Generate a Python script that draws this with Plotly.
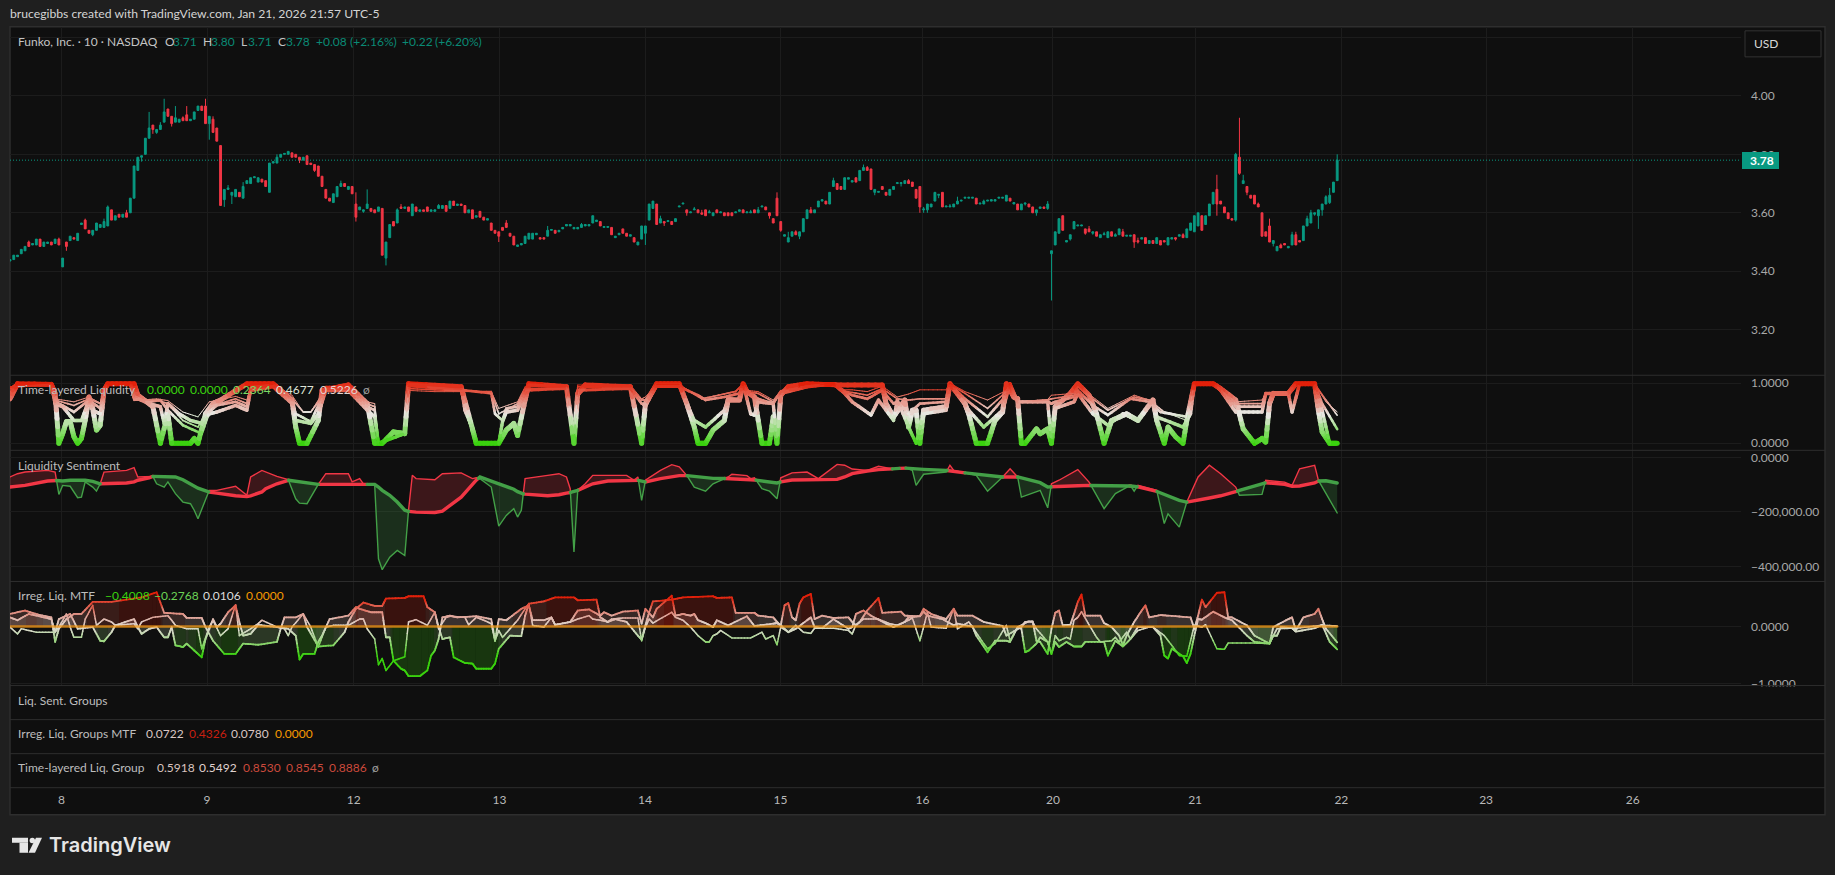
import plotly.graph_objects as go

W, H = 1835, 875
RENDER_H = 882
SHIFT = 1.2
BG, PAGE, GRID, SEP = "#0f0f0f", "#1f1f1f", "#1c1c1c", "#2e2e2e"
UP, DOWN = "#089981", "#F23645"
FONT = "Lato"

opens = [
 3.435,3.44,3.45,3.46,3.47,3.50,3.49,3.49,3.51,3.485,
 3.495,3.50,3.495,3.51,3.415,3.50,3.505,3.515,3.505,3.56,
 3.575,3.54,3.525,3.54,3.55,3.55,3.555,3.61,3.575,3.595,
 3.585,3.60,3.60,3.65,3.745,3.79,3.80,3.855,3.90,3.875,
 3.885,3.91,3.955,3.93,3.91,3.91,3.925,3.935,3.915,3.92,
 3.95,3.965,3.965,3.905,3.92,3.89,3.83,3.645,3.68,3.66,
 3.655,3.67,3.65,3.70,3.70,3.72,3.705,3.715,3.71,3.67,
 3.77,3.77,3.79,3.80,3.80,3.805,3.80,3.79,3.78,3.795,
 3.77,3.765,3.76,3.725,3.68,3.65,3.635,3.655,3.69,3.70,
 3.68,3.69,3.63,3.61,3.605,3.615,3.615,3.61,3.605,3.615,
 3.445,3.515,3.57,3.565,3.62,3.615,3.62,3.59,3.62,3.605,
 3.61,3.62,3.605,3.605,3.615,3.615,3.625,3.615,3.64,3.625,
 3.63,3.625,3.60,3.61,3.585,3.605,3.585,3.575,3.565,3.54,
 3.535,3.55,3.565,3.53,3.52,3.485,3.49,3.495,3.51,3.51,
 3.525,3.515,3.515,3.52,3.54,3.54,3.535,3.545,3.555,3.555,
 3.545,3.545,3.55,3.555,3.555,3.565,3.57,3.57,3.55,3.55,
 3.55,3.515,3.525,3.545,3.53,3.52,3.515,3.49,3.51,3.53,
 3.575,3.615,3.63,3.565,3.57,3.57,3.57,3.57,3.62,3.63,
 3.61,3.60,3.61,3.61,3.60,3.61,3.60,3.59,3.61,3.60,
 3.60,3.60,3.60,3.60,3.605,3.61,3.60,3.60,3.61,3.60,
 3.62,3.62,3.60,3.58,3.65,3.57,3.52,3.50,3.52,3.535,
 3.52,3.535,3.58,3.61,3.60,3.62,3.64,3.64,3.63,3.69,
 3.70,3.69,3.68,3.715,3.705,3.72,3.71,3.745,3.755,3.75,
 3.67,3.67,3.69,3.67,3.66,3.68,3.70,3.70,3.70,3.71,
 3.705,3.68,3.69,3.61,3.61,3.62,3.64,3.66,3.67,3.62,
 3.62,3.62,3.63,3.64,3.65,3.65,3.65,3.65,3.63,3.63,
 3.64,3.64,3.64,3.65,3.65,3.64,3.65,3.63,3.63,3.61,
 3.63,3.63,3.62,3.60,3.615,3.62,3.615,3.46,3.49,3.53,
 3.59,3.50,3.51,3.545,3.555,3.555,3.545,3.545,3.53,3.535,
 3.515,3.525,3.515,3.535,3.52,3.525,3.535,3.52,3.52,3.525,
 3.505,3.51,3.515,3.495,3.505,3.495,3.505,3.505,3.49,3.51,
 3.515,3.52,3.525,3.515,3.54,3.535,3.555,3.59,3.56,3.59,
 3.63,3.68,3.64,3.62,3.60,3.58,3.575,3.79,3.70,3.69,
 3.66,3.66,3.63,3.60,3.535,3.555,3.495,3.47,3.49,3.495,
 3.48,3.49,3.525,3.505,3.505,3.555,3.565,3.595,3.59,3.61,
 3.63,3.635,3.67,3.71]
closes = [
 3.44,3.455,3.455,3.475,3.485,3.485,3.495,3.51,3.485,3.50,
 3.50,3.49,3.51,3.49,3.445,3.485,3.52,3.51,3.53,3.565,
 3.545,3.53,3.54,3.565,3.56,3.57,3.62,3.575,3.59,3.585,
 3.595,3.585,3.65,3.76,3.79,3.795,3.855,3.89,3.885,3.885,
 3.90,3.945,3.93,3.905,3.925,3.92,3.915,3.915,3.92,3.945,
 3.965,3.95,3.905,3.93,3.875,3.845,3.625,3.68,3.685,3.67,
 3.68,3.655,3.69,3.71,3.72,3.723,3.72,3.705,3.69,3.77,
 3.775,3.79,3.80,3.803,3.81,3.79,3.79,3.78,3.79,3.765,
 3.765,3.745,3.725,3.69,3.65,3.64,3.665,3.69,3.70,3.69,
 3.69,3.665,3.585,3.62,3.61,3.63,3.605,3.60,3.62,3.455,
 3.50,3.56,3.555,3.61,3.615,3.62,3.605,3.63,3.605,3.61,
 3.605,3.605,3.61,3.61,3.625,3.625,3.605,3.64,3.625,3.63,
 3.625,3.60,3.61,3.58,3.59,3.585,3.575,3.58,3.54,3.53,
 3.52,3.54,3.55,3.52,3.49,3.49,3.495,3.52,3.53,3.53,
 3.53,3.51,3.51,3.54,3.543,3.53,3.54,3.55,3.56,3.56,
 3.55,3.55,3.56,3.56,3.56,3.59,3.575,3.555,3.553,3.553,
 3.525,3.52,3.53,3.53,3.52,3.525,3.50,3.50,3.555,3.555,
 3.63,3.64,3.56,3.58,3.565,3.573,3.56,3.58,3.623,3.633,
 3.60,3.603,3.613,3.60,3.595,3.59,3.603,3.60,3.60,3.603,
 3.59,3.59,3.59,3.603,3.61,3.60,3.603,3.603,3.60,3.61,
 3.623,3.61,3.59,3.565,3.59,3.54,3.525,3.515,3.535,3.525,
 3.535,3.58,3.61,3.60,3.61,3.64,3.645,3.63,3.67,3.71,
 3.68,3.68,3.72,3.72,3.71,3.705,3.745,3.755,3.745,3.68,
 3.68,3.673,3.68,3.66,3.68,3.69,3.703,3.703,3.71,3.70,
 3.69,3.65,3.62,3.613,3.63,3.63,3.67,3.663,3.62,3.623,
 3.623,3.63,3.64,3.643,3.653,3.653,3.653,3.63,3.633,3.64,
 3.643,3.645,3.645,3.653,3.653,3.66,3.64,3.635,3.61,3.63,
 3.633,3.62,3.60,3.61,3.62,3.615,3.63,3.47,3.535,3.58,
 3.54,3.505,3.525,3.57,3.558,3.558,3.53,3.535,3.535,3.52,
 3.525,3.528,3.535,3.52,3.525,3.545,3.52,3.523,3.523,3.50,
 3.50,3.515,3.495,3.505,3.495,3.515,3.49,3.50,3.515,3.515,
 3.51,3.525,3.515,3.545,3.565,3.59,3.60,3.54,3.59,3.63,
 3.67,3.63,3.63,3.60,3.58,3.575,3.80,3.735,3.71,3.67,
 3.65,3.63,3.62,3.52,3.52,3.50,3.505,3.485,3.48,3.49,
 3.485,3.525,3.49,3.50,3.555,3.58,3.60,3.60,3.61,3.63,
 3.655,3.66,3.705,3.78]
# upper and lower wick ends, keyed by candle number (1 = first candle on the chart)
wick_highs = {6:3.505,14:3.515,21:3.58,26:3.58,27:3.625,32:3.61,38:3.945,41:3.91,42:3.99,45:3.965,47:3.93,48:3.965,
 53:3.99,55:3.93,59:3.695,63:3.705,72:3.80,89:3.71,93:3.67,96:3.68,104:3.615,105:3.63,115:3.63,133:3.575,144:3.555,
 153:3.565,174:3.59,183:3.62,185:3.61,187:3.61,198:3.61,200:3.62,205:3.67,208:3.535,210:3.54,214:3.62,220:3.72,
 228:3.765,229:3.76,240:3.715,244:3.62,251:3.63,253:3.655,260:3.645,271:3.635,277:3.64,288:3.555,292:3.535,295:3.53,
 297:3.545,301:3.515,313:3.53,322:3.73,327:3.805,328:3.925,329:3.73,333:3.635,336:3.58,339:3.495,342:3.535,343:3.535,
 346:3.59,347:3.61,351:3.66,352:3.685,354:3.80}
wick_lows = {16:3.47,23:3.52,36:3.775,39:3.87,40:3.87,44:3.895,54:3.85,58:3.62,60:3.63,78:3.77,82:3.74,93:3.57,95:3.60,
 101:3.42,131:3.50,170:3.49,175:3.555,181:3.59,203:3.58,204:3.565,206:3.535,211:3.51,231:3.66,238:3.69,243:3.60,
 244:3.60,245:3.60,248:3.65,252:3.62,271:3.625,274:3.59,277:3.61,278:3.30,283:3.505,287:3.525,289:3.525,300:3.48,
 301:3.495,311:3.505,322:3.59,327:3.57,328:3.73,330:3.66,337:3.485,348:3.59,349:3.545,350:3.59,352:3.63}

day_bars = [13.7,52.4,91.4,130.2,168.9,204.9,242.7,277.4,315.2,354.1,392.6,431.6]
day_labels = ["8","9","12","13","14","15","16","20","21","22","23","26"]
last_close = 3.78

tl_a_bars = [0,2,11,12,13,14,15,16,17,18,19,20,21,22,23,24,25,26,33,34,37,38,40,42,43,48,49,50,52,54,56,63,70,75,76,77,79,82,83,90,95,97,99,102,105,106,120,123,124,130,132,134,135,137,138,148,150,151,153,165,168,169,172,178,180,182,183,185,187,190,191,194,195,196,198,200,202,203,204,205,207,212,221,232,233,235,238,239,240,241,242,243,249,250,254,255,257,260,262,264,265,267,268,269,270,273,274,276,277,278,282,284,287,289,291,293,297,300,304,305,307,308,310,312,313,315,320,322,326,328,331,333,334,335,336,340,342,347,348,349,351,353]
tl_a_vals = [.74,.99,.98,.83,0,.16,.36,.36,.11,0,.08,.38,.77,.58,.22,.30,.88,.99,.99,.80,.66,.61,0,.49,0,0,.08,0,.49,.66,.72,.99,.99,.72,.27,0,0,.38,.88,.97,.66,0,0,.19,.16,.99,.94,.24,0,0,.22,.33,.13,.72,.99,.94,0,.83,.97,.94,0,.66,.99,.99,.66,.27,0,0,.22,.38,.72,.72,.99,.86,.77,0,0,.44,0,.80,.94,.99,.97,.97,.66,.44,.72,.27,.55,.55,0,.55,.61,.99,.66,.49,0,0,.38,.52,.99,.77,.74,0,0,.24,.16,.24,0,.61,.83,.99,.80,.49,0,.38,.49,.38,.72,.38,0,.27,.11,0,.38,.99,.99,.91,.72,.24,0,.08,.02,.66,.83,.83,.99,.99,.55,.19,0,0]
tl_b_bars = [0,2,11,12,14,17,19,21,22,24,25,26,32,33,37,40,41,42,45,48,51,53,55,60,63,64,70,75,76,80,82,84,90,95,97,98,105,106,120,121,123,124,130,131,132,135,137,138,148,150,151,153,165,168,169,172,178,182,185,190,191,194,195,197,198,199,203,204,205,212,219,222,224,229,231,235,236,239,241,243,249,250,255,259,264,266,268,276,277,278,283,284,288,292,296,300,304,305,312,314,315,320,322,326,333,334,340,341,343,347,349,351,353]
tl_b_vals = [.83,.97,.97,.66,.61,.38,.38,.72,.55,.49,.83,.99,.99,.77,.66,.61,.33,.66,.49,.38,.33,.49,.52,.63,.55,.88,.94,.66,.38,.33,.49,.88,.88,.55,.44,0,.16,.98,.94,.55,.24,0,0,.36,.52,.55,.83,.97,.94,0,.80,.94,.91,0,.61,.97,.97,.38,.27,.55,.74,.72,.99,.49,.47,.69,.66,0,.83,.94,.99,.83,.69,.47,.72,.38,.72,.27,0,.49,.55,.99,.55,.27,.55,.99,.69,.69,0,.58,.69,.83,.49,.30,.49,.38,.72,.44,.27,.49,.99,.99,.88,.52,.52,.83,.83,.52,.99,.99,.55,0,0]
tl_c_bars = [0,2,11,12,14,17,21,24,25,26,32,33,37,40,42,46,51,53,55,60,63,64,70,75,76,80,82,84,90,95,97,98,105,106,120,128,129,131,132,135,137,148,150,151,165,168,169,172,178,183,185,190,194,195,196,199,203,205,212,219,222,224,228,232,235,236,239,242,249,250,254,260,265,266,268,276,277,278,283,284,288,292,298,303,306,313,315,320,322,326,333,334,340,342,347,349,353]
tl_c_vals = [.91,.99,.98,.69,.63,.52,.72,.58,.86,.99,.99,.74,.69,.72,.55,.30,.16,.52,.63,.69,.61,.91,.97,.72,.49,.36,.63,.91,.91,.61,.55,0,.16,.95,.89,.83,.49,.38,.58,.61,.88,.91,0,.88,.91,.66,.63,.94,.94,.80,.72,.77,.83,.99,.86,.74,.66,.86,.94,.99,.86,.80,.74,.88,.66,.69,.49,.66,.69,.99,.74,.44,.80,.99,.69,.69,.66,.69,.77,.88,.63,.47,.74,.69,.52,.44,.99,.99,.88,.61,.61,.83,.83,.99,.99,.66,.2364]
tl_d_bars = [0,11,12,17,21,24,25,26,32,33,39,42,46,50,53,60,63,64,70,75,78,80,82,84,90,95,97,98,105,106,120,128,130,135,137,148,150,151,165,168,169,172,178,184,193,195,196,199,203,205,212,219,222,228,232,236,239,242,249,250,254,260,265,266,268,276,277,283,284,288,292,299,303,307,313,315,320,322,326,333,334,340,342,347,350,353]
tl_d_vals = [.93,.98,.72,.63,.74,.66,.88,.99,.99,.72,.72,.66,.38,.27,.61,.74,.66,.94,.97,.74,.52,.52,.69,.94,.94,.66,.61,0,.16,.91,.87,.86,.49,.66,.91,.91,0,.94,.94,.72,.72,.97,.97,.74,.86,.99,.86,.83,.69,.86,.94,.99,.87,.80,.91,.74,.72,.74,.74,.99,.83,.58,.86,.99,.69,.72,.74,.80,.94,.74,.55,.77,.72,.52,.44,.99,.99,.88,.66,.66,.83,.83,.99,.99,.72,.4677]
tl_e_bars = [0,11,12,17,21,24,25,26,32,33,39,42,46,50,53,60,63,64,70,75,78,80,82,84,90,95,97,98,105,106,113,128,130,135,137,148,150,151,165,168,169,172,178,184,193,195,196,199,203,205,212,219,222,224,228,232,236,239,242,249,250,254,260,265,266,268,276,277,283,284,288,292,299,303,307,313,315,320,322,326,333,334,340,342,347,350,353]
tl_e_vals = [.94,.98,.74,.69,.77,.67,.91,.99,.99,.71,.74,.71,.52,.44,.69,.78,.72,.95,.98,.80,.52,.52,.72,.95,.95,.69,.66,0,.16,.88,.86,.86,.58,.69,.94,.94,0,.97,.97,.74,.77,.98,.98,.74,.87,1.0,.88,.86,.72,.88,.95,1.0,.89,.89,.86,.95,.77,.82,.89,.89,1.0,.86,.72,.88,1.0,.69,.73,.80,.83,.99,.77,.58,.80,.72,.52,.38,.99,.99,.88,.69,.72,.83,.83,.99,.99,.69,.5226]

sent_bars = [0,2,4,10,12,13,14,16,18,19,20,22,23,24,25,31,33,34,37,38,39,41,42,44,46,48,49,50,53,55,57,60,63,64,67,68,71,74,76,77,79,82,84,90,91,93,94,97,98,99,101,103,105,106,107,108,113,115,120,123,124,125,128,130,132,134,135,136,137,143,146,148,149,150,151,153,155,159,164,166,167,168,169,173,176,178,180,182,185,187,191,192,196,197,198,200,202,204,205,208,212,215,218,220,222,224,228,231,235,238,240,241,243,249,250,251,257,260,264,266,268,269,274,276,277,279,284,287,291,294,298,299,300,305,307,308,311,313,316,319,322,326,327,333,334,339,341,343,347,348,350,353]
sent_fast_k = [-72,-60,-54,-48,-54,-136,-103,-106,-148,-146,-90,-109,-124,-97,-54,-48,-38,-72,-70,-70,-97,-109,-90,-133,-164,-170,-194,-225,-121,-121,-115,-106,-139,-72,-48,-54,-70,-82,-152,-168,-170,-99,-60,-60,-90,-78,-97,-103,-372,-412,-366,-341,-360,-194,-66,-78,-82,-60,-57,-78,-75,-78,-109,-252,-213,-188,-219,-194,-78,-66,-60,-72,-115,-347,-121,-97,-66,-66,-66,-84,-72,-158,-84,-48,-27,-35,-66,-109,-124,-97,-72,-62,-67,-78,-75,-115,-124,-152,-75,-57,-54,-78,-48,-26,-29,-43,-48,-33,-43,-38,-48,-103,-62,-54,-29,-48,-66,-124,-72,-42,-72,-146,-121,-185,-97,-84,-45,-91,-188,-133,-103,-124,-103,-121,-243,-207,-256,-164,-72,-29,-60,-109,-139,-136,-84,-91,-103,-42,-29,-84,-133,-204]
sent_slow_k = [-109,-106,-103,-87,-84,-87,-87,-84,-83,-83,-84,-88,-92,-97,-97,-94,-90,-84,-75,-70,-70,-70,-71,-72,-82,-97,-106,-113,-127,-131,-136,-141,-144,-141,-127,-115,-97,-84,-87,-89,-94,-99,-99,-99,-99,-99,-99,-99,-109,-121,-139,-164,-194,-198,-199,-201,-202,-197,-146,-97,-84,-72,-87,-97,-109,-117,-126,-133,-135,-141,-137,-131,-129,-126,-121,-109,-97,-87,-84,-84,-84,-87,-90,-78,-72,-67,-67,-70,-75,-77,-78,-78,-81,-82,-83,-86,-90,-94,-90,-83,-82,-82,-82,-81,-72,-60,-50,-45,-42,-39,-42,-43,-44,-48,-50,-52,-62,-67,-72,-72,-72,-76,-93,-109,-108,-106,-104,-103,-104,-105,-105,-106,-108,-125,-137,-143,-158,-164,-158,-149,-141,-127,-121,-97,-93,-99,-106,-105,-94,-87,-86,-94]

mtf_a_bars = [0,4,8,11,12,13,15,17,19,22,27,35,39,41,46,47,51,52,54,57,60,62,66,71,72,73,76,78,79,82,86,89,90,92,94,97,99,100,105,106,110,111,113,114,115,117,118,121,123,124,128,129,130,133,136,137,138,142,145,150,151,156,157,159,161,164,167,168,169,170,171,176,179,187,188,192,193,198,199,203,204,205,206,207,208,209,210,211,213,214,216,219,223,224,225,226,228,231,232,237,238,242,243,245,249,251,252,256,259,264,265,269,270,272,273,274,276,277,278,279,280,282,283,284,285,286,290,291,293,295,296,297,299,301,302,303,306,308,314,315,316,317,318,321,323,324,325,329,331,335,336,340,341,342,344,347,348,349,350,353]
mtf_a_vals = [.22,.28,.20,.16,-.27,-.04,.13,.22,.22,.43,.43,.51,.60,.24,.22,.15,.15,-.01,-.25,-.48,-.48,-.30,-.32,-.27,-.04,.16,.16,.22,-.01,-.35,-.33,-.10,.08,.31,.42,.36,.36,.49,.50,.53,.53,.34,.25,-.01,-.22,-.19,-.54,-.64,-.65,-.74,-.74,-.65,-.39,-.16,-.17,.19,.40,.44,.51,.51,.46,.47,.16,.08,.13,.08,-.16,-.23,.02,.25,.44,.47,.51,.53,.50,.51,.24,.24,.19,.16,.08,.02,.37,.41,.16,.11,.40,.51,.57,.13,.19,.15,.16,.08,.02,.08,.28,.50,.24,.26,.19,.18,.31,.22,.13,.31,.19,.19,.08,.01,-.16,-.01,.08,.09,-.25,-.27,-.48,-.04,.24,.28,.02,.03,.22,.43,.56,.19,.19,.06,-.01,-.16,-.33,-.16,.08,.28,.37,.16,.20,.19,.16,-.04,.19,.47,.34,.59,.60,.16,.16,.02,-.16,-.30,-.01,.13,.16,-.07,.16,.22,.31,.13,-.04,-.2768]
mtf_b_bars = [0,2,5,9,11,12,13,16,18,22,24,25,27,28,33,34,35,37,39,41,42,43,44,46,47,49,51,52,54,55,56,58,60,61,62,64,66,71,74,76,77,78,81,82,83,85,90,92,93,96,99,100,101,102,104,105,106,109,111,112,113,114,115,117,119,124,128,129,130,132,133,136,138,139,142,144,145,149,151,154,157,158,160,163,167,168,169,171,172,176,177,179,181,182,183,185,187,188,191,196,198,203,204,205,207,209,212,213,214,216,219,223,224,225,227,229,233,235,238,239,242,243,244,248,251,252,256,257,260,262,265,266,268,269,270,271,273,274,276,277,278,279,281,283,285,286,291,292,294,296,298,300,304,306,307,308,309,312,313,314,315,316,317,320,323,325,329,331,335,336,337,338,341,342,347,349,351,353]
mtf_b_vals = [.16,.11,.22,.16,.13,-.10,.13,.22,-.04,-.01,-.25,-.26,-.10,.02,.13,-.01,-.13,-.04,-.01,-.19,-.19,-.01,-.33,-.36,-.30,-.42,-.54,-.22,.13,-.01,.05,.25,.37,.08,-.16,-.13,.03,-.01,-.04,-.16,-.58,-.48,-.48,-.27,-.16,.13,.19,.34,.31,.25,.25,-.19,-.19,-.60,-.74,-.77,-.87,-.87,-.77,-.51,-.42,-.22,.16,.19,.16,.18,.13,-.25,.13,.11,.16,.31,.37,.11,.11,.16,.03,.08,.28,.30,.19,.25,.19,.26,.28,.05,.31,.16,.31,.54,.19,.22,.19,.22,.11,.06,-.01,.11,.02,.18,.01,.05,.06,.02,-.10,-.04,.11,.16,-.01,-.03,.13,-.04,-.01,.22,.28,.19,.05,-.01,.08,.16,.18,.26,.19,.13,.02,.05,0,-.16,-.45,-.25,-.25,-.27,-.01,-.04,-.45,-.42,-.30,-.19,-.27,-.48,-.27,-.36,-.27,-.35,-.35,-.27,-.27,-.51,-.25,-.35,-.22,-.01,-.01,-.16,-.51,-.56,-.39,-.52,-.64,-.48,-.16,.13,.12,.26,.16,.11,-.16,-.27,-.30,-.16,-.16,-.01,-.03,-.09,-.03,.03,-.27,-.4008]
mtf_c_bars = [0,2,3,7,12,13,15,16,17,19,20,22,23,25,27,28,33,34,35,38,42,43,44,47,50,51,53,54,56,58,60,61,64,66,67,71,73,74,75,78,80,82,84,86,90,93,94,95,97,98,99,100,102,105,106,108,111,113,114,116,117,121,122,124,126,128,129,130,131,133,135,137,138,139,142,144,145,149,151,154,155,157,159,160,163,167,168,169,170,171,176,177,179,181,183,185,186,187,188,189,192,197,200,201,203,204,205,207,209,211,213,214,219,223,224,225,227,231,234,236,239,240,242,243,244,245,249,251,252,255,256,259,260,262,265,266,268,270,271,272,273,276,277,278,279,281,282,283,284,285,287,289,290,293,294,295,297,298,300,303,304,307,309,311,313,314,315,317,318,321,323,324,331,335,336,337,341,342,349,353]
mtf_c_vals = [-.01,-.13,-.04,-.10,-.10,-.01,.22,-.01,-.19,-.19,.13,.37,.02,.13,.08,.02,.05,-.04,.08,.16,.19,.11,.02,-.04,-.04,-.39,-.01,.11,-.16,-.04,.38,-.16,-.04,.05,.11,-.01,-.04,-.16,-.01,.22,-.01,-.36,-.01,.02,.02,.13,.13,-.04,-.22,-.67,-.56,-.77,-.60,-.53,.08,.12,.02,.25,-.04,.16,.18,.16,.03,.16,.11,.05,-.25,-.07,-.19,-.04,.11,.31,.40,.02,-.01,.16,.03,.08,.13,.19,.13,.11,.08,.13,.15,.15,-.25,-.01,.13,.06,.25,.16,.11,-.01,-.16,-.27,-.27,-.16,-.13,-.07,-.20,-.20,-.10,-.22,-.16,-.32,-.01,-.10,.02,-.10,-.12,-.03,-.03,-.07,-.13,.03,.13,.13,.05,.02,.11,.15,-.25,-.01,.25,-.01,-.03,.31,-.04,.08,-.01,-.30,-.39,-.30,.02,-.25,-.01,.06,.09,.08,-.04,-.27,-.48,-.16,-.25,-.19,-.22,.11,.16,.26,.03,-.19,-.27,-.25,-.19,-.27,-.10,-.22,-.07,-.01,-.01,-.16,-.33,-.51,-.52,-.25,.02,-.01,.03,-.39,-.40,-.29,-.29,-.30,-.16,-.04,-.03,-.03,.02,.0106]
mtf_zero = [0, 0]
mtf_zero_bars = [0, 353]

bars = list(range(len(opens)))
highs = [wick_highs.get(i + 1, max(opens[i], closes[i])) for i in bars]
lows = [wick_lows.get(i + 1, min(opens[i], closes[i])) for i in bars]

def px(x): return x / W
def py(y): return 1 - (y - SHIFT) / H

fig = go.Figure()
shapes, notes = [], []

def rect(x0, y0, x1, y1, fill, line="rgba(0,0,0,0)", lw=0, layer="below", **kw):
    shapes.append(dict(type="rect", xref="paper", yref="paper", x0=px(x0), x1=px(x1), y0=py(y0), y1=py(y1),
                       fillcolor=fill, line=dict(color=line, width=lw), layer=layer, **kw))

def hline(y, x0=10, x1=1825, color=SEP, layer="above"):
    shapes.append(dict(type="line", xref="paper", yref="paper", x0=px(x0), x1=px(x1), y0=py(y), y1=py(y),
                       line=dict(color=color, width=1), layer=layer))

def note(x, y, text, color="#bdbdbd", size=12, anchor="left", **kw):
    notes.append(dict(x=px(x), y=py(y), xref="paper", yref="paper", xanchor=anchor, yanchor="middle",
                      text=text, showarrow=False, font=dict(family=kw.pop("family", FONT), size=size, color=color, **kw),
                      borderpad=0, borderwidth=0, xshift=0, yshift=0))

def lerp(c1, c2, t):
    return tuple(c1[i] + (c2[i] - c1[i]) * t for i in range(3))

GREEN, PALE, RED = (58, 210, 14), (232, 230, 224), (226, 32, 10)
MTF_PALE = (222, 216, 208)

def tl_color(v):
    v = max(0.0, min(1.0, v))
    return lerp(GREEN, PALE, v / 0.5) if v < 0.5 else lerp(PALE, RED, (v - 0.5) / 0.5)

def mtf_color(v):
    t = min(1.0, abs(v) / 0.5)
    t = t ** 1.3
    return lerp(MTF_PALE, RED if v > 0 else GREEN, t)

def rgb(c, a=None):
    c = tuple(int(round(k)) for k in c)
    return f"rgb{c}" if a is None else f"rgba({c[0]},{c[1]},{c[2]},{a})"

def gradient_line(xs, ys, color_fn, width, axis, lo, hi, bins=22, pieces=6):
    groups = {}
    for i in range(len(xs) - 1):
        for k in range(pieces):
            a, b = k / pieces, (k + 1) / pieces
            x0, x1 = xs[i] + (xs[i+1]-xs[i]) * a, xs[i] + (xs[i+1]-xs[i]) * b
            y0, y1 = ys[i] + (ys[i+1]-ys[i]) * a, ys[i] + (ys[i+1]-ys[i]) * b
            key = round(((y0 + y1) / 2 - lo) / (hi - lo) * bins)
            g = groups.setdefault(key, ([], []))
            g[0].extend([x0, x1, None]); g[1].extend([y0, y1, None])
    for key, (gx, gy) in sorted(groups.items()):
        fig.add_trace(go.Scatter(x=gx, y=gy, mode="lines", xaxis="x" + axis, yaxis="y" + axis, hoverinfo="skip",
                                 line=dict(color=rgb(color_fn(lo + (hi - lo) * key / bins)), width=width)))

def gradient_fill(xs, ys, axis, alpha=0.2, bins=14, pieces=4, lo=-.9, hi=.9):
    groups = {}
    for i in range(len(xs) - 1):
        for k in range(pieces):
            a, b = k / pieces, (k + 1) / pieces
            x0, x1 = xs[i] + (xs[i+1]-xs[i]) * a, xs[i] + (xs[i+1]-xs[i]) * b
            y0, y1 = ys[i] + (ys[i+1]-ys[i]) * a, ys[i] + (ys[i+1]-ys[i]) * b
            key = round(((y0 + y1) / 2 - lo) / (hi - lo) * bins)
            g = groups.setdefault(key, ([], []))
            g[0].extend([x0, x0, x1, x1, x0, None]); g[1].extend([0, y0, y1, 0, 0, None])
    for key, (gx, gy) in sorted(groups.items()):
        c = mtf_color(lo + (hi - lo) * key / bins)
        fig.add_trace(go.Scatter(x=gx, y=gy, mode="none", fill="toself", fillcolor=rgb(c, alpha), xaxis="x" + axis,
                                 yaxis="y" + axis, hoverinfo="skip"))

# ---------------- price pane
fig.add_trace(go.Candlestick(x=bars, open=opens, high=highs, low=lows, close=closes, xaxis="x", yaxis="y",
    increasing=dict(line=dict(color=UP, width=1), fillcolor=UP),
    decreasing=dict(line=dict(color=DOWN, width=1), fillcolor=DOWN), whiskerwidth=0, hoverinfo="skip"))

# ---------------- time-layered liquidity pane
for bx, vy, lw in [(tl_a_bars, tl_a_vals, 5.0), (tl_b_bars, tl_b_vals, 3.4), (tl_c_bars, tl_c_vals, 2.6),
                   (tl_d_bars, tl_d_vals, 1.6), (tl_e_bars, tl_e_vals, 1.0)]:
    gradient_line(bx, vy, tl_color, lw, "2", 0.0, 1.0)

# ---------------- liquidity sentiment pane
def sentiment_runs():
    runs, cx, cf, cs = [], [sent_bars[0]], [sent_fast_k[0]], [sent_slow_k[0]]
    up = sent_fast_k[0] >= sent_slow_k[0]
    for i in range(1, len(sent_bars)):
        d0 = sent_fast_k[i-1] - sent_slow_k[i-1]
        d1 = sent_fast_k[i] - sent_slow_k[i]
        if d0 * d1 < 0:
            t = d0 / (d0 - d1)
            xc = sent_bars[i-1] + t * (sent_bars[i] - sent_bars[i-1])
            yc = sent_fast_k[i-1] + t * (sent_fast_k[i] - sent_fast_k[i-1])
            cx.append(xc); cf.append(yc); cs.append(yc)
            runs.append((up, cx, cf, cs))
            cx, cf, cs = [xc], [yc], [yc]
            up = d1 > 0
        elif d0 == 0 and d1 != 0 and (d1 > 0) != up:
            runs.append((up, cx, cf, cs))
            cx, cf, cs = [sent_bars[i-1]], [sent_fast_k[i-1]], [sent_slow_k[i-1]]
            up = d1 > 0
        cx.append(sent_bars[i]); cf.append(sent_fast_k[i]); cs.append(sent_slow_k[i])
    runs.append((up, cx, cf, cs))
    return runs

S_RED, S_GREEN = "#F23645", "#43A047"
runs = sentiment_runs()
for up in (True, False):
    col = S_RED if up else S_GREEN
    fx, fy, lx, ly, sx, sy = [], [], [], [], [], []
    for u, cx, cf, cs in runs:
        if u != up:
            continue
        fx += cx + cx[::-1] + [None]; fy += cf + cs[::-1] + [None]
        lx += cx + [None]; ly += cf + [None]
        sx += cx + [None]; sy += cs + [None]
    fill = "rgba(242,54,69,0.2)" if up else "rgba(76,175,80,0.2)"
    fig.add_trace(go.Scatter(x=fx, y=fy, mode="none", fill="toself", fillcolor=fill, xaxis="x3", yaxis="y3", hoverinfo="skip"))
    fig.add_trace(go.Scatter(x=lx, y=ly, mode="lines", line=dict(color=col, width=1.4), xaxis="x3", yaxis="y3", hoverinfo="skip"))
    fig.add_trace(go.Scatter(x=sx, y=sy, mode="lines", line=dict(color=col, width=3.4), xaxis="x3", yaxis="y3", hoverinfo="skip"))

# ---------------- irregular liquidity MTF pane
gradient_fill(mtf_a_bars, mtf_a_vals, "4")
gradient_fill(mtf_b_bars, mtf_b_vals, "4")
for bx, vy, lw in [(mtf_a_bars, mtf_a_vals, 1.8), (mtf_b_bars, mtf_b_vals, 1.8), (mtf_c_bars, mtf_c_vals, 1.5)]:
    gradient_line(bx, vy, mtf_color, lw, "4", -0.9, 0.9, bins=30)
fig.add_trace(go.Scatter(x=mtf_zero_bars, y=mtf_zero, mode="lines", line=dict(color="rgba(240,150,20,0.75)", width=2.6),
                         xaxis="x4", yaxis="y4", hoverinfo="skip"))
# empty group panes
fig.add_trace(go.Scatter(x=[None], y=[None], mode="lines", xaxis="x5", yaxis="y5", hoverinfo="skip"))

# ---------------- frame and separators
rect(10, 27, 1825, 814, BG, SEP, 1.5, "below")
for y in (375, 450, 581):
    hline(y)
# mask below the last indicator pane so that its lowest label is cut off at the pane edge
rect(1742, 686, 1824, 718, BG, layer="above")
for y in (685, 719, 753, 787):
    hline(y)
shapes.append(dict(type="line", xref="paper", yref="y", x0=px(10), x1=px(1741), y0=last_close, y1=last_close,
                   line=dict(color=UP, width=1, dash="1px,2px"), layer="above"))
rect(1745, 31, 1821, 57, BG, "#333333", 1, "above")
rect(1742, 152, 1779, 169, "#089981", layer="above")
# TradingView mark
rect(12, 837, 28, 842, "#e6e6e6", layer="above")
rect(19.5, 842, 28, 852, "#e6e6e6", layer="above")
shapes.append(dict(type="circle", xref="paper", yref="paper", x0=px(29.6), x1=px(35), y0=py(837), y1=py(842.4),
                   fillcolor="#e6e6e6", line=dict(width=0), layer="above"))
shapes.append(dict(type="path", xref="paper", yref="paper", layer="above", fillcolor="#e6e6e6", line=dict(width=0),
                   path=f"M {px(36)} {py(837)} L {px(42)} {py(837)} L {px(35)} {py(852)} L {px(28.5)} {py(852)} Z"))

# ---------------- texts
note(10, 14, "brucegibbs created with TradingView.com, Jan 21, 2026 21:57 UTC-5", "#d4d4d4", 12.2)
note(18, 41.5, "Funko, Inc. · 10 · NASDAQ", "#c4c4c4")
VAL = "#0a8a75"
for x, t, c in [(165, "O", "#c4c4c4"), (173, "3.71", VAL), (203, "H", "#c4c4c4"), (211, "3.80", VAL),
                (241, "L", "#c4c4c4"), (248, "3.71", VAL), (278, "C", "#c4c4c4"), (286, "3.78", VAL),
                (315.5, "+0.08", VAL), (349.5, "(+2.16%)", VAL), (401.7, "+0.22", VAL), (435, "(+6.20%)", VAL)]:
    note(x, 41.5, t, c)
note(18, 389, "Time-layered Liquidity", "#bdbdbd")
for x, t, c in [(146.6, "0.0000", "#3ad20e"), (190, "0.0000", "#3ad20e"), (233, "0.2364", "#7bd863"),
                (276, "0.4677", "#dde3d6"), (319.6, "0.5226", "#e3d3d0"), (362.5, "ø", "#a0a0a0")]:
    note(x, 389, t, c)
note(18, 465, "Liquidity Sentiment", "#bdbdbd")
note(18, 595, "Irreg. Liq. MTF", "#bdbdbd")
for x, t, c in [(104.5, "−0.4008", "#3ad20e"), (154, "−0.2768", "#6cd356"), (203, "0.0106", "#dcdcdc"), (246, "0.0000", "#f59a00")]:
    note(x, 595, t, c)
note(18, 699.5, "Liq. Sent. Groups", "#bdbdbd")
note(18, 733, "Irreg. Liq. Groups MTF", "#bdbdbd")
for x, t, c in [(145.7, "0.0722", "#d9c6c3"), (188.7, "0.4326", "#c91f10"), (231, "0.0780", "#d9c6c3"), (275, "0.0000", "#f59a00")]:
    note(x, 733, t, c)
note(18, 767, "Time-layered Liq. Group", "#bdbdbd")
for x, t, c in [(156.7, "0.5918", "#d9c4bf"), (199, "0.5492", "#e0d3d0"), (242.7, "0.8530", "#cc4a3c"),
                (285.7, "0.8545", "#cc4a3c"), (328.7, "0.8886", "#cc4a3c"), (372, "ø", "#a0a0a0")]:
    note(x, 767, t, c)
note(1754, 44, "USD", "#d8d8d8", 12)
note(1750, 160.5, "<b>3.78</b>", "#ffffff", 12)
note(49, 844, "TradingView", "#e6e6e6", 20, family="Inter", weight=600)

# ---------------- axes
dom_x = [px(10), px(1741)]
x_range = [0, 460.4]
xbase = dict(domain=dom_x, range=x_range, tickmode="array", tickvals=day_bars, showticklabels=False, showgrid=True,
             gridcolor=GRID, gridwidth=1, zeroline=False, showline=False, ticks="", fixedrange=True)
ybase = dict(side="right", gridcolor=GRID, gridwidth=1, zeroline=False, showline=False, ticks="", tickmode="array",
             tickfont=dict(family=FONT, size=12, color="#a8a8a8"), ticklabelstandoff=9, fixedrange=True)

def dom(y_top, y_bot): return [py(y_bot), py(y_top)]

layout = dict(
    width=W, height=RENDER_H, margin=dict(l=0, r=0, t=0, b=0), autosize=False, showlegend=False,
    paper_bgcolor=PAGE, plot_bgcolor="rgba(0,0,0,0)", shapes=shapes, annotations=notes,
    xaxis=dict(xbase, anchor="y", rangeslider=dict(visible=False)),
    xaxis2=dict(xbase, anchor="y2"), xaxis3=dict(xbase, anchor="y3"), xaxis4=dict(xbase, anchor="y4"),
    xaxis5=dict(xbase, anchor="y5", showgrid=False, showticklabels=True, ticktext=day_labels, ticklabelstandoff=3,
                tickfont=dict(family=FONT, size=12, color="#b8b8b8")),
    yaxis=dict(ybase, anchor="x", domain=dom(27, 375), range=[3.0445, 4.236],
               tickvals=[3.2, 3.4, 3.6, 3.8, 4.0, 4.2], ticktext=["3.20", "3.40", "3.60", "3.80", "4.00", " "]),
    yaxis2=dict(ybase, anchor="x2", domain=dom(375, 450), range=[-0.117, 1.133],
                tickvals=[0, 1], ticktext=["0.0000", "1.0000"]),
    yaxis3=dict(ybase, anchor="x3", domain=dom(450, 581), range=[-455, 25.7],
                tickvals=[-400, -200, 0], ticktext=["−400,000.00", "−200,000.00", "0.0000"]),
    yaxis4=dict(ybase, anchor="x4", domain=dom(581, 685), range=[-1.035, 0.789],
                tickvals=[-1, 0], ticktext=["−1.0000", "0.0000"]),
    yaxis5=dict(anchor="x5", domain=dom(685, 787), range=[0, 1], showgrid=False, showticklabels=False, zeroline=False,
                side="right", fixedrange=True),
)
fig.update_layout(**layout)

fig.write_html("out.html", config=dict(displayModeBar=False), post_script="""
document.documentElement.style.overflow='hidden';
document.documentElement.style.height='875px';
document.body.style.margin='0';
document.body.style.height='875px';
document.body.style.overflow='hidden';
document.querySelectorAll('.scatterlayer path.js-line').forEach(function(p){p.style.strokeLinecap='round';});
""")
